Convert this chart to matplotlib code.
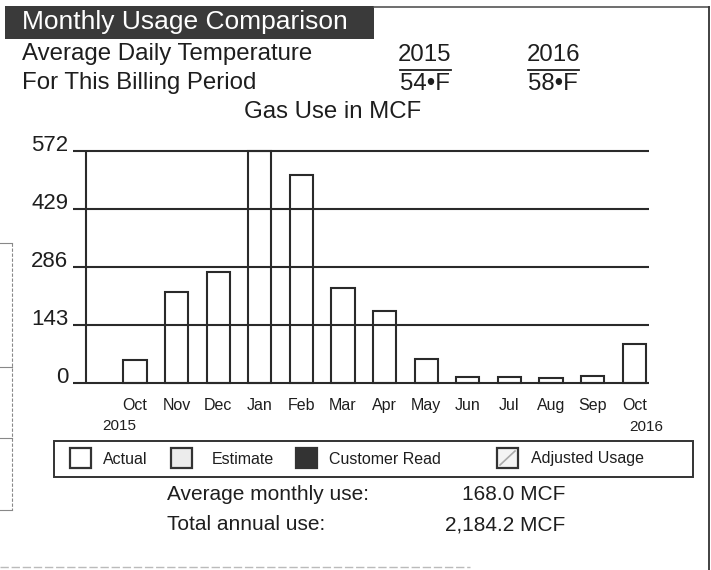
import matplotlib
matplotlib.use('Agg')
import matplotlib.pyplot as plt
import matplotlib.patches as mpatches
import matplotlib.transforms as mtransforms
from matplotlib.lines import Line2D

plt.rcParams['font.family'] = ['Liberation Sans', 'DejaVu Sans']

# Dados
meses = ['Oct', 'Nov', 'Dec', 'Jan', 'Feb', 'Mar', 'Apr',
         'May', 'Jun', 'Jul', 'Aug', 'Sep', 'Oct']
uso_mcf = [57, 225, 273, 572, 513, 235, 178, 59, 16, 14, 12, 18, 97]
yticks = [0, 143, 286, 429, 572]
anos = ['2015', '2016']
temperaturas = ['54•F', '58•F']
legenda = ['Actual', 'Estimate', 'Customer Read', 'Adjusted Usage']
media_mensal = '168.0 MCF'
total_anual = '2,184.2 MCF'

W, H = 711, 570
TXT = '#1e1e1e'
LINHA = '#2a2a2a'


def fx(x):
    return x / W


def fy(y):
    return 1 - y / H


fig = plt.figure(figsize=(W / 100, H / 100), dpi=100)
fig.patch.set_facecolor('white')

# Moldura e cabeçalho
fig.add_artist(mpatches.Rectangle((fx(5), fy(39)), fx(369), 33 / H,
                                  transform=fig.transFigure,
                                  facecolor='#3a3a3a', edgecolor='none'))
fig.text(fx(22), fy(22), 'Monthly Usage Comparison', color='white',
         fontsize=19, va='center', ha='left')
fig.add_artist(Line2D([fx(374), fx(709)], [fy(7), fy(7)],
                      transform=fig.transFigure, color='#555555', lw=1.2))
fig.add_artist(Line2D([fx(709), fx(709)], [fy(7), fy(570)],
                      transform=fig.transFigure, color='#333333', lw=1.3))

# Temperaturas
CORPO = 17.3
fig.text(fx(22), fy(54), 'Average Daily Temperature', color=TXT,
         fontsize=CORPO, va='center')
fig.text(fx(22), fy(83), 'For This Billing Period', color=TXT,
         fontsize=CORPO, va='center')
for xc, ano, temp in zip([425, 553], anos, temperaturas):
    fig.text(fx(xc), fy(55), ano, color=TXT, fontsize=CORPO,
             ha='center', va='center')
    fig.text(fx(xc), fy(84), temp, color=TXT, fontsize=CORPO,
             ha='center', va='center')
    fig.add_artist(Line2D([fx(xc - 25), fx(xc + 26)], [fy(70), fy(70)],
                          transform=fig.transFigure, color=TXT, lw=1.3))
fig.text(fx(333), fy(112), 'Gas Use in MCF', color=TXT, fontsize=CORPO,
         ha='center', va='center')

# Gráfico de barras
ax = fig.add_axes([fx(73), fy(383), fx(649 - 73), (383 - 150.7) / H])
x = list(range(len(meses)))
x_eixo = -1.178
ax.set_xlim(-1.49, 12.356)
ax.set_ylim(0, 572)
for s in ax.spines.values():
    s.set_visible(False)

ax.hlines(yticks, -1.49, 12.356, color=LINHA, lw=1.5, clip_on=False, zorder=2)
ax.vlines(x_eixo, 0, 572, color=LINHA, lw=1.5, clip_on=False, zorder=2)
ax.bar(x, uso_mcf, width=0.556, facecolor='none', edgecolor=LINHA,
       lw=1.5, clip_on=False, zorder=3)

ax.set_yticks(yticks)
ax.set_yticklabels([str(v) for v in yticks])
ax.tick_params(axis='y', length=0, pad=3.5, labelsize=16, labelcolor=TXT)
for lab in ax.get_yticklabels():
    lab.set_va('baseline')

ax.set_xticks(x)
ax.set_xticklabels(meses)
ax.tick_params(axis='x', length=0, pad=11, labelsize=11.5, labelcolor=TXT)

trans = mtransforms.blended_transform_factory(ax.transData, fig.transFigure)
ax.text(x[0] + 0.03, fy(426), anos[0], transform=trans, ha='right',
        va='center', fontsize=11, color=TXT)
ax.text(x[-1] + 0.7, fy(427), anos[1], transform=trans, ha='right',
        va='center', fontsize=11, color=TXT)

# Legenda
fig.add_artist(mpatches.Rectangle((fx(54), fy(477)), fx(639), 36 / H,
                                  transform=fig.transFigure,
                                  facecolor='none', edgecolor='#333333',
                                  lw=1.4))
quad_x = [70, 171, 296, 497]
texto_x = [103, 212, 329, 531]
cores = ['white', '#ececec', '#333333', '#f4f4f4']
for qx, tx, nome, cor in zip(quad_x, texto_x, legenda, cores):
    fig.add_artist(mpatches.Rectangle((fx(qx), fy(468)), fx(21), 20 / H,
                                      transform=fig.transFigure,
                                      facecolor=cor, edgecolor='#333333',
                                      lw=1.6))
    fig.text(fx(tx), fy(459), nome, color=TXT, fontsize=11.5,
             va='center', ha='left')
fig.add_artist(Line2D([fx(500), fx(515)], [fy(465), fy(451)],
                      transform=fig.transFigure, color='#aaaaaa', lw=1.2))

# Resumo
fig.text(fx(167), fy(495), 'Average monthly use:', color=TXT,
         fontsize=15, va='center')
fig.text(fx(167), fy(525), 'Total annual use:', color=TXT,
         fontsize=15, va='center')
fig.text(fx(565), fy(495), media_mensal, color=TXT, fontsize=15,
         va='center', ha='right')
fig.text(fx(565), fy(525), total_anual, color=TXT, fontsize=15,
         va='center', ha='right')

# Marcas de digitalização à esquerda e embaixo
fig.add_artist(Line2D([fx(12), fx(12)], [fy(243), fy(510)],
                      transform=fig.transFigure, color='#888888',
                      lw=0.8, ls=(0, (3, 1.5))))
for yy in [243, 367, 438, 510]:
    fig.add_artist(Line2D([fx(0), fx(12)], [fy(yy), fy(yy)],
                          transform=fig.transFigure, color='#888888',
                          lw=0.8))
fig.add_artist(Line2D([fx(0), fx(470)], [fy(567), fy(567)],
                      transform=fig.transFigure, color='#bbbbbb',
                      lw=1.0, ls=(0, (6, 2))))

fig.savefig('out.png', dpi=100, facecolor='white')
